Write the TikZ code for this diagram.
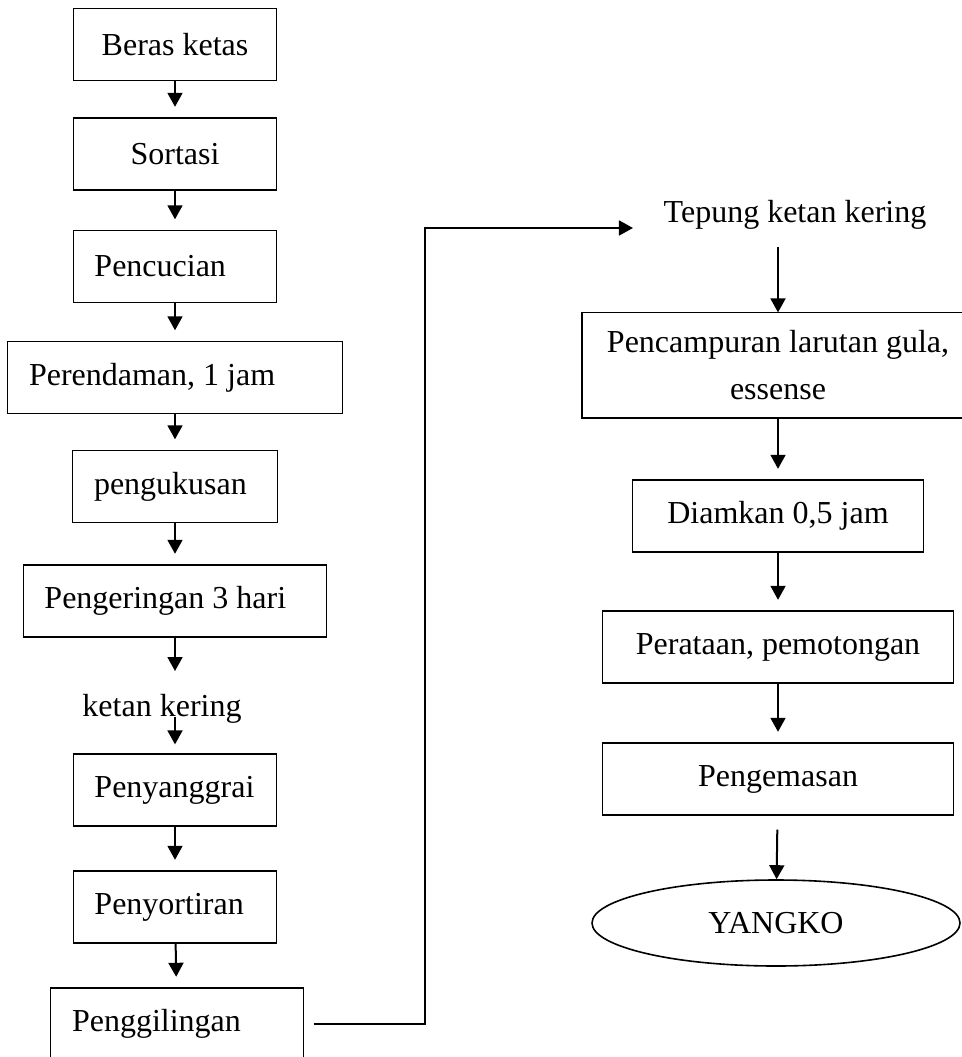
\documentclass[tikz,border=0pt]{standalone}
\usepackage{fontspec}
\setmainfont{Liberation Serif}
\usetikzlibrary{arrows.meta,shapes.geometric}

\begin{document}
\begin{tikzpicture}[x=0.375pt,y=-0.375pt,>={Triangle[length=5.25pt,width=5.6pt]},
  every node/.style={font=\fontsize{12}{14}\selectfont},
  box/.style={draw,line width=0.4pt,minimum height=27pt,inner xsep=7.9pt,align=center},
  lbox/.style={box,align=flush left,text width=#1},
  flow/.style={->,line width=0.75pt,shorten >=4pt}]
\useasboundingbox (0,0) rectangle (961,1057);
% left column
\node[box,minimum width=76.1pt] (beras) at (175,44.5) {Beras ketas};
\node[box,minimum width=76.1pt] (sortasi) at (175,154) {Sortasi};
\node[lbox=60.4pt] (cuci) at (175,266.5) {Pencucian};
\node[lbox=109.5pt] (rendam) at (175,377.5) {Perendaman, 1 jam};
\node[lbox=60.75pt] (kukus) at (175,486.5) {pengukusan};
\node[lbox=97.9pt] (jemur) at (175,601) {Pengeringan 3 hari};
\node (ketan) at (162,709) {ketan kering};
\node[lbox=60.4pt] (sangrai) at (175,790) {Penyanggrai};
\node[lbox=60.4pt] (sortir) at (175,907) {Penyortiran};
\node[lbox=78.75pt] (giling) at (177,1024) {Penggilingan};
% right column
\node (tepung) at (795,215) {Tepung ketan kering};
\node[box,minimum width=147pt,minimum height=39.4pt,
  font=\fontsize{12}{17.6}\selectfont] (campur) at (778,365.5) {Pencampuran larutan gula,\\ essense};
\node[box,minimum width=109.1pt] (diam) at (778,516) {Diamkan 0,5 jam};
\node[box,minimum width=131.6pt] (rata) at (778,647) {Perataan, pemotongan};
\node[box,minimum width=131.6pt] (kemas) at (778,779) {Pengemasan};
\node[draw,ellipse,line width=0.6pt,inner sep=0pt,minimum width=138pt,
  minimum height=32.25pt] (yangko) at (776,923) {YANGKO};
\coordinate (bend) at (425,228);

\draw[flow] (beras) -- (sortasi);
\draw[flow] (sortasi) -- (cuci);
\draw[flow] (cuci) -- (rendam);
\draw[flow] (rendam) -- (kukus);
\draw[flow] (kukus) -- (jemur);
\draw[flow,shorten >=5.25pt] (jemur.south) -- (jemur.south |- ketan.north);
\draw[flow,shorten <=3pt,shorten >=3.4pt] (sangrai.north |- ketan) -- (sangrai.north);
\draw[flow] (sangrai) -- (sortir);
\draw[flow] (sortir) -- (giling);
\draw[flow,shorten <=3.75pt,shorten >=8pt] (giling.east) -| (bend) -- (bend -| tepung.west);
\draw[flow,shorten <=3pt,shorten >=0pt] (campur.north |- tepung.south) -- (campur.north);
\draw[flow] (campur) -- (diam);
\draw[flow] (diam) -- (rata);
\draw[flow] (rata) -- (kemas);
\draw[flow,shorten <=5.25pt,shorten >=0pt] (kemas) -- (yangko);
\end{tikzpicture}
\end{document}
